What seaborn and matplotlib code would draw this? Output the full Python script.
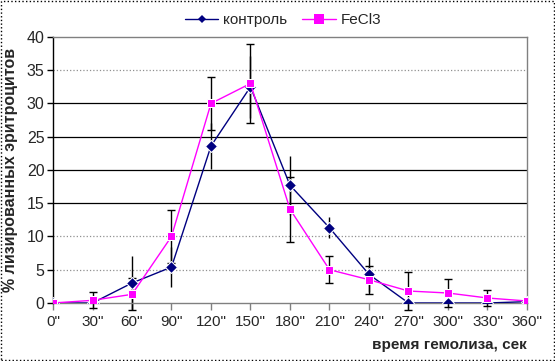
import pandas as pd
import matplotlib
matplotlib.use('Agg')
import matplotlib.pyplot as plt
import seaborn as sns
from matplotlib.patches import Rectangle

times = [0, 30, 60, 90, 120, 150, 180, 210, 240, 270, 300, 330, 360]
tick_labels = [f'{t}"' for t in times]
control = [0, 0, 3.0, 5.4, 23.6, 32.5, 17.7, 11.3, 4.3, 0, 0, 0, 0.2]
control_err = [0, 0, 4.0, 3.0, 3.4, 4.7, 4.4, 1.6, 2.6, 0, 0, 0, 0]
fecl3 = [0, 0.4, 1.3, 10.0, 30.0, 33.0, 14.1, 5.0, 3.5, 1.8, 1.5, 0.75, 0.3]
fecl3_err = [0, 1.2, 2.4, 4.0, 4.0, 6.0, 4.9, 2.0, 2.1, 2.9, 2.1, 1.2, 0]

df = pd.DataFrame({
    'time': times * 2,
    'value': control + fecl3,
    'err': control_err + fecl3_err,
    'series': ['контроль'] * len(times) + ['FeCl3'] * len(times),
})

sns.set_style('white')
plt.rcParams['font.family'] = ['Liberation Sans', 'DejaVu Sans']

fig = plt.figure(figsize=(5.55, 3.61), dpi=100)
ax = fig.add_axes([0.0955, 0.1607, 0.854, 0.737])

colors = {'контроль': '#000080', 'FeCl3': '#FF00FF'}
markers = {'контроль': 'D', 'FeCl3': 's'}
sizes = {'контроль': 3.8, 'FeCl3': 7}

# error bars first, behind the lines
for name, sub in df.groupby('series', sort=False):
    mask = sub['err'] > 0
    ax.errorbar(sub['time'][mask], sub['value'][mask], yerr=sub['err'][mask],
                fmt='none', ecolor='black', elinewidth=1, capsize=3,
                capthick=1, zorder=2, clip_on=False)

sns.lineplot(data=df, x='time', y='value', hue='series', style='series',
             palette=colors, markers=markers, dashes=False, linewidth=1,
             ax=ax, legend=False, zorder=3)
for line, name in zip(ax.lines, ['контроль', 'FeCl3']):
    line.set_markersize(sizes[name])
    line.set_markeredgewidth(0)
    line.set_clip_on(False)

ax.set_xlim(0, 360)
ax.set_ylim(0, 40)
ax.set_xticks(times)
ax.set_xticklabels(tick_labels, fontsize=11)
ax.set_yticks(range(0, 41, 5))
ax.tick_params(axis='y', labelsize=11.5, length=4, width=1, color='black',
               left=True, pad=2)
ax.tick_params(axis='x', length=5, width=1, color='#808080', bottom=True, pad=4)

ax.yaxis.grid(True, color='black', linewidth=0.9)
for val, gl in zip(range(0, 41, 5), ax.get_ygridlines()):
    if val in (5, 10, 35):
        gl.set_color('#909090')
        gl.set_linestyle(':')
    if val in (0, 40):
        gl.set_visible(False)
ax.set_axisbelow(True)

for side in ['top', 'right', 'bottom']:
    ax.spines[side].set_color('#808080')
    ax.spines[side].set_linewidth(1)
ax.spines['left'].set_color('black')
ax.spines['left'].set_linewidth(1)

ax.set_xlabel('')
ax.set_ylabel('% лизированных эритроцитов', fontsize=11.5, fontweight='bold',
              labelpad=6)
fig.text(0.95, 0.045, 'время гемолиза, сек', ha='right', va='center',
         fontsize=11, fontweight='bold')

handles = [plt.Line2D([], [], color=colors[n], marker=markers[n], markersize=sizes[n],
                      markeredgewidth=0, linewidth=1) for n in ['контроль', 'FeCl3']]
fig.legend(handles, ['контроль', 'FeCl3'], loc='center', bbox_to_anchor=(0.51, 0.945),
           ncol=2, frameon=False, fontsize=11, handlelength=2.2,
           handletextpad=0.3, columnspacing=1.0)

fig.patches.append(Rectangle((0.002, 0.003), 0.996, 0.994, transform=fig.transFigure,
                             fill=False, edgecolor='black', linestyle=':', linewidth=1))

fig.savefig('out.png', dpi=100)
